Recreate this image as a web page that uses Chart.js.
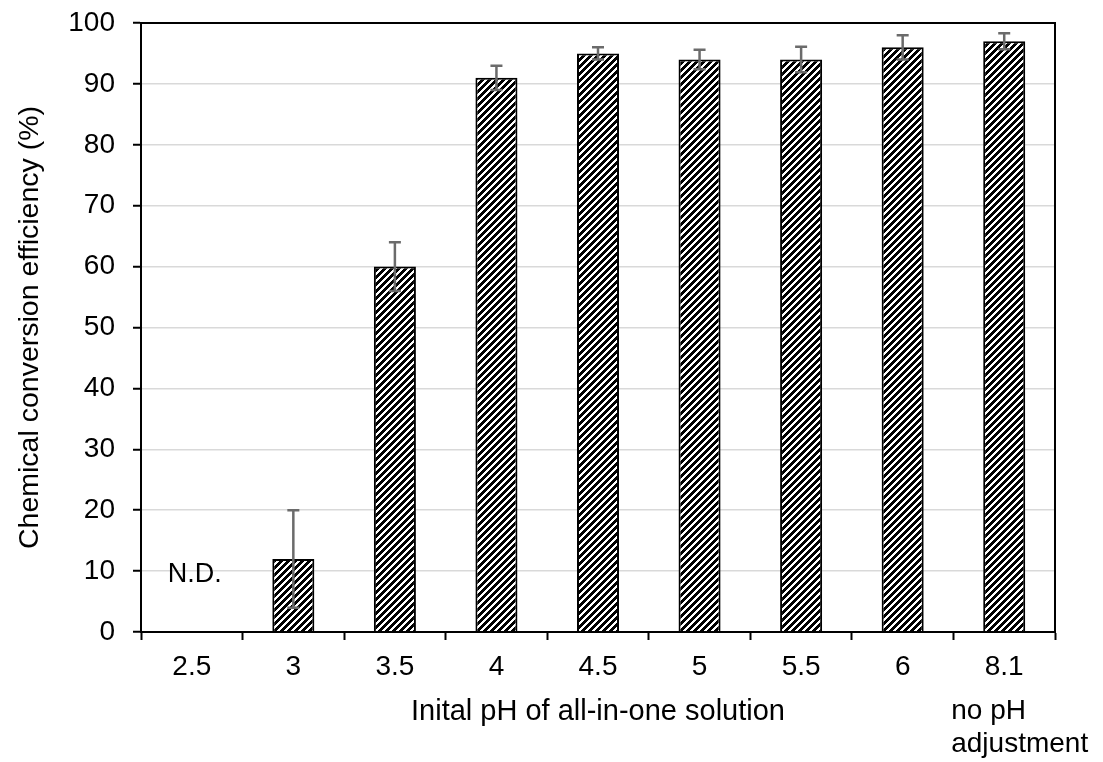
<!DOCTYPE html>
<html>
<head>
<meta charset="utf-8">
<script src="https://cdn.jsdelivr.net/npm/chart.js@4"></script>
<style>
html,body{margin:0;padding:0;background:#fff;}
#wrap{width:1103px;height:762px;position:relative;}
</style>
</head>
<body>
<div id="wrap"><canvas id="c" width="1103" height="762"></canvas></div>
<script>
const categories = ["2.5","3","3.5","4","4.5","5","5.5","6","8.1"];
const efficiency = [0, 12, 60, 91, 95, 94, 94, 96, 97];
const errors = [0, 8, 4, 2, 1, 1.6, 2.1, 2, 1.3];
const yTicks = {min: 0, max: 100, step: 10};
const ndLabel = "N.D.";
const lastExtraLines = ["no pH", "adjustment"];

const FONT = '"Liberation Sans", Arial, sans-serif';

function makePattern() {
  const t = document.createElement('canvas');
  const P = 7;
  t.width = P; t.height = P;
  const tc = t.getContext('2d');
  const img = tc.createImageData(P, P);
  for (let y = 0; y < P; y++) {
    for (let x = 0; x < P; x++) {
      const d = (x + y) % P;
      let v = d < 4 ? 0 : 255;
      const i = (y * P + x) * 4;
      img.data[i] = v; img.data[i+1] = v; img.data[i+2] = v; img.data[i+3] = 255;
    }
  }
  tc.putImageData(img, 0, 0);
  return tc.createPattern(t, 'repeat');
}

const extras = {
  id: 'extras',
  afterDatasetsDraw(chart) {
    const ctx = chart.ctx;
    const x = chart.scales.x, y = chart.scales.y;
    ctx.save();
    ctx.strokeStyle = '#6b6b6b';
    ctx.lineWidth = 2.5;
    efficiency.forEach((v, i) => {
      const e = errors[i];
      if (!e) return;
      const cx = x.getPixelForValue(i);
      const yt = y.getPixelForValue(v + e);
      const yb = y.getPixelForValue(v - e);
      ctx.beginPath();
      ctx.moveTo(cx, yt); ctx.lineTo(cx, yb);
      ctx.moveTo(cx - 6, yt); ctx.lineTo(cx + 6, yt);
      ctx.moveTo(cx - 6, yb); ctx.lineTo(cx + 6, yb);
      ctx.stroke();
    });
    ctx.restore();
    const a = chart.chartArea;
    ctx.save();
    ctx.strokeStyle = '#000';
    ctx.lineWidth = 2;
    ctx.strokeRect(a.left, a.top, a.right - a.left, a.bottom - a.top);
    ctx.restore();
    ctx.save();
    ctx.fillStyle = '#000';
    ctx.font = '27px ' + FONT;
    ctx.textAlign = 'center';
    ctx.textBaseline = 'middle';
    ctx.fillText(ndLabel, x.getPixelForValue(0) + 3, y.getPixelForValue(9.5));
    ctx.restore();
  },
  afterDraw(chart) {
    const ctx = chart.ctx;
    const x = chart.scales.x;
    ctx.save();
    ctx.fillStyle = '#000';
    ctx.font = '28px ' + FONT;
    ctx.textAlign = 'left';
    ctx.textBaseline = 'middle';
    const lx = x.getPixelForValue(categories.length - 1) - 53;
    lastExtraLines.forEach((s, k) => ctx.fillText(s, lx, 711 + k * 33));
    ctx.restore();
  }
};

new Chart(document.getElementById('c'), {
  type: 'bar',
  data: {
    labels: categories,
    datasets: [{
      data: efficiency,
      backgroundColor: makePattern(),
      borderColor: '#000',
      borderWidth: 2,
      barPercentage: 0.414,
      categoryPercentage: 1.0
    }]
  },
  options: {
    responsive: false,
    animation: false,
    devicePixelRatio: 1,
    layout: {padding: {left: 0, right: 48, top: 23, bottom: 0}},
    plugins: {legend: {display: false}, tooltip: {enabled: false}},
    scales: {
      x: {
        offset: true,
        afterFit(s) { s.height = 130; s.paddingLeft = 0; s.paddingRight = 0; },
        grid: {display: true, drawOnChartArea: false, offset: true, tickLength: 8, tickColor: '#000', tickWidth: 2},
        border: {display: true, color: '#000', width: 2},
        ticks: {color: '#000', font: {family: FONT, size: 28}, padding: 10, maxRotation: 0},
        title: {display: true, text: 'Inital pH of all-in-one solution', color: '#000', font: {family: FONT, size: 29}, padding: {top: 0, bottom: 33}}
      },
      y: {
        min: yTicks.min, max: yTicks.max,
        afterFit(s) { s.width = 141; s.paddingTop = 0; s.paddingBottom = 0; },
        grid: {color: '#d9d9d9', lineWidth: 1.5, tickLength: 8, tickColor: '#000', tickWidth: 2},
        border: {display: true, color: '#000', width: 2},
        ticks: {stepSize: yTicks.step, color: '#000', font: {family: FONT, size: 28}, padding: 18},
        title: {display: true, text: 'Chemical conversion efficiency (%)', color: '#000', font: {family: FONT, size: 28.5}, padding: {top: 13, bottom: 0}}
      }
    }
  },
  plugins: [extras]
});
</script>
</body>
</html>
